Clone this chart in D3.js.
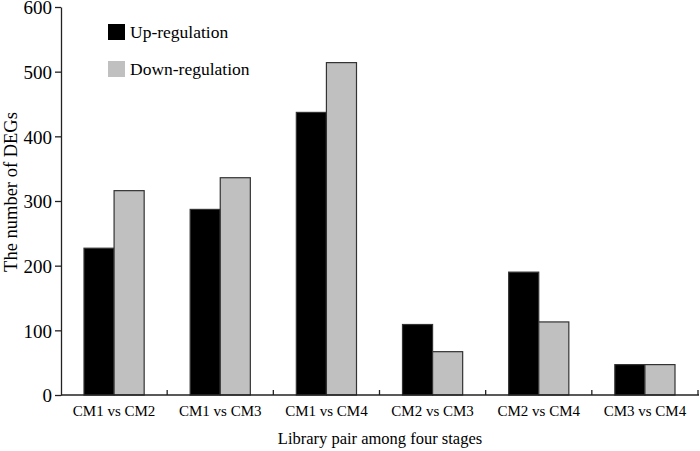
<!DOCTYPE html>
<html>
<head>
<meta charset="utf-8">
<script src="https://cdn.jsdelivr.net/npm/d3@7"></script>
<style>
  body { margin: 0; background: #fff; }
  text { font-family: "Liberation Serif", "Times New Roman", serif; fill: #000; }
</style>
</head>
<body>
<svg id="chart" width="700" height="451"></svg>
<script>
// data
let pairs = ["CM1 vs CM2", "CM1 vs CM3", "CM1 vs CM4", "CM2 vs CM3", "CM2 vs CM4", "CM3 vs CM4"];
let upValues = [227, 287, 437, 109, 190, 47];
let downValues = [316, 336, 514, 67, 113, 47];
let seriesNames = ["Up-regulation", "Down-regulation"];
let seriesColors = ["#000000", "#c0c0c0"];
let yTicks = [0, 100, 200, 300, 400, 500, 600];

let svg = d3.select("#chart");

// plot area
let plotLeft = 61, plotRight = 698, plotTop = 7, plotBottom = 395;

let x = d3.scaleBand()
    .domain(pairs)
    .range([plotLeft, plotRight])
    .padding(0);

// the two bars take ~60px of each ~106px category
let inner = d3.scaleBand()
    .domain(seriesNames)
    .range([23, x.bandwidth() - 23])
    .padding(0);

let y = d3.scaleLinear()
    .domain([0, 600])
    .range([plotBottom, plotTop]);

let rows = pairs.map((p, i) => ({ pair: p, values: [upValues[i], downValues[i]] }));

// bars
let groups = svg.append("g")
    .selectAll("g")
    .data(rows)
    .join("g")
    .attr("transform", d => "translate(" + x(d.pair) + ",0)");

groups.selectAll("rect")
    .data(d => d.values.map((v, j) => ({ name: seriesNames[j], value: v, color: seriesColors[j] })))
    .join("rect")
    .attr("x", d => inner(d.name))
    .attr("y", d => y(d.value))
    .attr("width", inner.bandwidth())
    .attr("height", d => plotBottom - y(d.value))
    .attr("fill", d => d.color)
    .attr("stroke", "#333")
    .attr("stroke-width", 1.2);

// y axis
let yAxis = svg.append("g")
    .attr("transform", "translate(" + plotLeft + ",0)")
    .call(d3.axisLeft(y).tickValues(yTicks).tickSize(6).tickSizeOuter(0).tickPadding(3));
yAxis.select(".domain").attr("stroke", "#222").attr("stroke-width", 1.3);
yAxis.selectAll(".tick line").attr("stroke", "#222").attr("stroke-width", 1.3);
yAxis.selectAll(".tick text")
    .style("font-size", "19px")
    .attr("dy", "0.36em")
    .attr("fill", "#000");

// x axis: ticks on category boundaries pointing up
let xAxis = svg.append("g")
    .attr("transform", "translate(0," + plotBottom + ")");
xAxis.append("line")
    .attr("x1", plotLeft).attr("x2", plotRight + 1)
    .attr("y1", 0).attr("y2", 0)
    .attr("stroke", "#222").attr("stroke-width", 1.3);
xAxis.selectAll(".bound")
    .data(pairs)
    .join("line")
    .attr("class", "bound")
    .attr("x1", d => x(d) + x.step())
    .attr("x2", d => x(d) + x.step())
    .attr("y1", 0).attr("y2", -5)
    .attr("stroke", "#222").attr("stroke-width", 1.3);
xAxis.selectAll(".lbl")
    .data(pairs)
    .join("text")
    .attr("class", "lbl")
    .attr("x", d => x(d) + x.bandwidth() / 2)
    .attr("y", 21)
    .attr("text-anchor", "middle")
    .style("font-size", "15px")
    .text(d => d);

// axis titles
svg.append("text")
    .attr("x", 380)
    .attr("y", 444)
    .attr("text-anchor", "middle")
    .style("font-size", "16.5px")
    .text("Library pair among four stages");

svg.append("text")
    .attr("transform", "translate(17,192) rotate(-90)")
    .attr("text-anchor", "middle")
    .style("font-size", "18.5px")
    .text("The number of DEGs");

// legend
let legend = svg.append("g")
    .selectAll("g")
    .data(seriesNames)
    .join("g")
    .attr("transform", (d, i) => "translate(108," + (24 + i * 37) + ")");
legend.append("rect")
    .attr("width", 17).attr("height", 16)
    .attr("fill", (d, i) => seriesColors[i]);
legend.append("text")
    .attr("x", 22)
    .attr("y", 14)
    .style("font-size", "17.5px")
    .text(d => d);
</script>
</body>
</html>
